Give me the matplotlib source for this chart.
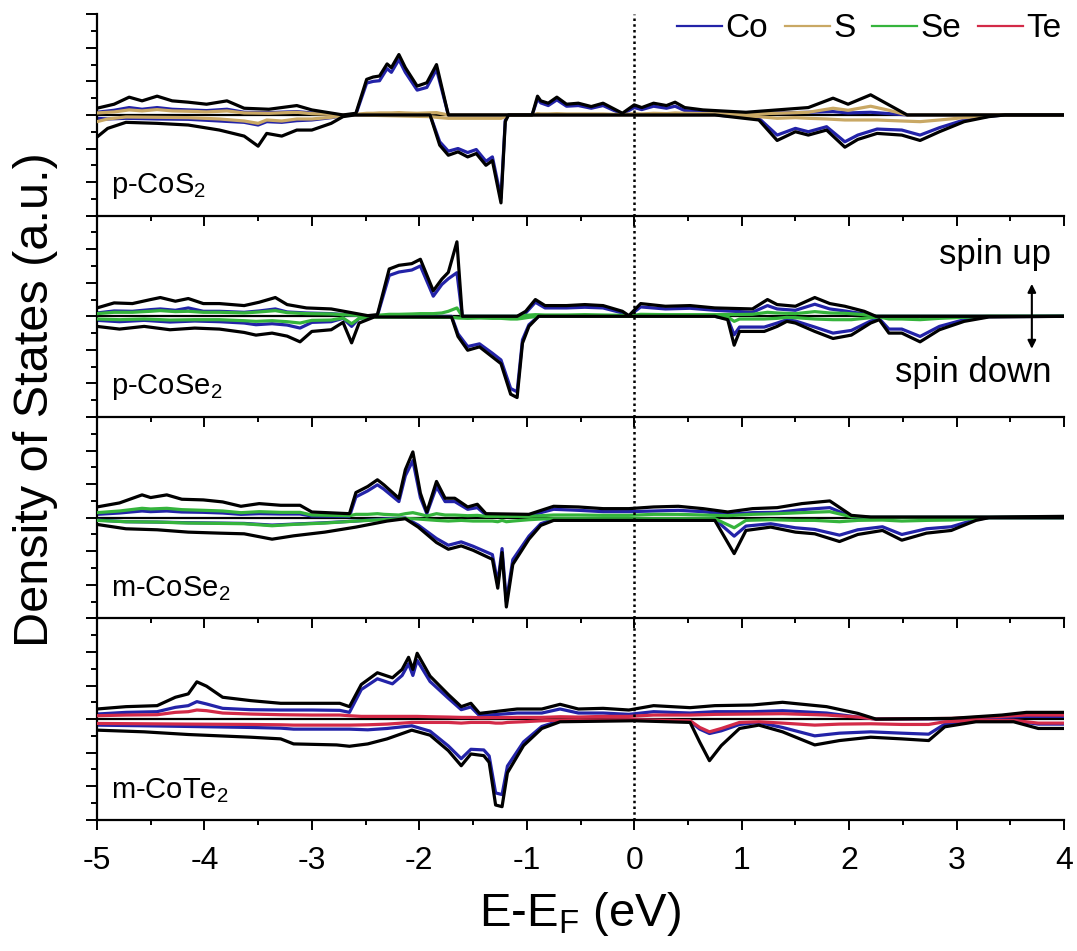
import numpy as np
import matplotlib
matplotlib.use("Agg")
import matplotlib.pyplot as plt
from matplotlib.lines import Line2D
from matplotlib.ticker import MultipleLocator

plt.rcParams['font.family'] = ['Liberation Sans', 'DejaVu Sans']
plt.rcParams['mathtext.default'] = 'regular'

# ---- data (energy in eV, DOS in a.u.) ----
# p-CoS2
e1u = [-5.0, -4.84, -4.70, -4.58, -4.44, -4.30, -4.15, -3.98, -3.79, -3.63, -3.40, -3.14, -3.00, -2.71, -2.59,
       -2.49, -2.43, -2.37, -2.30, -2.26, -2.19, -2.13, -2.02, -1.93, -1.84, -1.73, -0.95, -0.90, -0.87, -0.80,
       -0.72, -0.63, -0.52, -0.40, -0.29, -0.20, -0.11, 0.0, 0.07, 0.18, 0.30, 0.38, 0.47, 0.64, 1.04, 1.33, 1.62,
       1.85, 1.99, 2.20, 2.37, 2.54, 4.0]
tot1u = [0.20, 0.32, 0.53, 0.42, 0.56, 0.42, 0.38, 0.32, 0.42, 0.20, 0.17, 0.28, 0.15, 0.0, 0.05,
         1.06, 1.13, 1.16, 1.52, 1.41, 1.80, 1.41, 0.86, 0.96, 1.50, 0.0, 0.0, 0.56, 0.42, 0.35,
         0.53, 0.32, 0.35, 0.25, 0.35, 0.20, 0.05, 0.30, 0.22, 0.35, 0.28, 0.38, 0.22, 0.15, 0.08, 0.15, 0.22,
         0.50, 0.32, 0.60, 0.30, 0.0, 0.0]
co1u = [0.08, 0.14, 0.22, 0.17, 0.22, 0.17, 0.15, 0.13, 0.17, 0.08, 0.07, 0.10, 0.06, 0.0, 0.02,
        0.95, 1.00, 1.02, 1.38, 1.27, 1.65, 1.27, 0.74, 0.82, 1.36, 0.0, 0.0, 0.48, 0.36, 0.28,
        0.45, 0.26, 0.28, 0.20, 0.28, 0.15, 0.03, 0.22, 0.16, 0.26, 0.20, 0.26, 0.13, 0.08, 0.03, 0.06, 0.08,
        0.10, 0.06, 0.08, 0.04, 0.0, 0.0]
s1u = [0.06, 0.09, 0.15, 0.12, 0.16, 0.12, 0.11, 0.09, 0.12, 0.06, 0.05, 0.08, 0.04, 0.0, 0.02,
       0.05, 0.05, 0.06, 0.06, 0.06, 0.07, 0.06, 0.05, 0.06, 0.07, 0.0, 0.0, 0.04, 0.03, 0.03,
       0.04, 0.03, 0.03, 0.03, 0.03, 0.02, 0.01, 0.04, 0.03, 0.05, 0.04, 0.06, 0.05, 0.04, 0.03, 0.05, 0.08,
       0.20, 0.14, 0.26, 0.14, 0.0, 0.0]
e1d = [-5.0, -4.90, -4.73, -4.44, -4.15, -3.86, -3.63, -3.50, -3.42, -3.28, -3.14, -3.00, -2.82, -2.71, -2.60,
       -1.90, -1.81, -1.73, -1.64, -1.55, -1.47, -1.38, -1.32, -1.24, -1.20, -1.17,
       0.75, 1.16, 1.33, 1.50, 1.62, 1.79, 1.96, 2.08, 2.26, 2.49, 2.66, 2.84, 3.07, 3.30, 3.45, 4.0]
tot1d = [-0.66, -0.40, -0.22, -0.25, -0.30, -0.45, -0.63, -0.93, -0.55, -0.63, -0.45, -0.45, -0.25, -0.05, 0.0,
         0.0, -0.90, -1.20, -1.10, -1.25, -1.15, -1.50, -1.36, -2.62, -0.20, 0.0,
         0.0, -0.15, -0.76, -0.50, -0.60, -0.45, -0.96, -0.73, -0.55, -0.60, -0.76, -0.50, -0.20, -0.05, 0.0, 0.0]
co1d = [-0.10, -0.12, -0.10, -0.12, -0.13, -0.18, -0.22, -0.30, -0.20, -0.22, -0.17, -0.15, -0.08, -0.02, 0.0,
        0.0, -0.80, -1.08, -1.00, -1.12, -1.03, -1.38, -1.25, -2.47, -0.15, 0.0,
        0.0, -0.10, -0.60, -0.40, -0.50, -0.35, -0.80, -0.60, -0.42, -0.45, -0.60, -0.38, -0.15, -0.04, 0.0, 0.0]
s1d = [-0.20, -0.12, -0.06, -0.07, -0.08, -0.12, -0.18, -0.25, -0.15, -0.18, -0.12, -0.12, -0.07, -0.02, 0.0,
       -0.05, -0.08, -0.10, -0.10, -0.10, -0.10, -0.10, -0.10, -0.10, -0.05, 0.0,
       0.0, -0.05, -0.10, -0.08, -0.10, -0.12, -0.15, -0.15, -0.15, -0.18, -0.20, -0.15, -0.08, -0.02, 0.0, 0.0]

# p-CoSe2
e2u = [-5.0, -4.84, -4.67, -4.50, -4.41, -4.27, -4.15, -4.01, -3.86, -3.63, -3.49, -3.34, -3.23, -3.05, -2.82,
       -2.65, -2.48, -2.39, -2.28, -2.19, -2.07, -1.99, -1.87, -1.79, -1.73, -1.65, -1.60, -1.09, -1.01, -0.92,
       -0.83, -0.63, -0.46, -0.29, -0.11, -0.05, 0.06, 0.29, 0.52, 0.75, 1.10, 1.24, 1.33, 1.50, 1.68, 1.82,
       1.96, 2.14, 2.25, 4.0]
tot2u = [0.25, 0.40, 0.38, 0.50, 0.56, 0.45, 0.53, 0.38, 0.38, 0.32, 0.42, 0.56, 0.35, 0.25, 0.22,
         0.12, 0.02, 0.05, 1.41, 1.52, 1.57, 1.70, 0.76, 1.11, 1.31, 2.22, 0.0, 0.0, 0.15, 0.50,
         0.32, 0.32, 0.35, 0.32, 0.15, 0.02, 0.38, 0.30, 0.32, 0.25, 0.22, 0.50, 0.35, 0.30, 0.56, 0.38,
         0.30, 0.15, 0.0, 0.0]
co2u = [0.10, 0.16, 0.15, 0.20, 0.22, 0.18, 0.25, 0.15, 0.15, 0.12, 0.16, 0.22, 0.13, 0.10, 0.08,
        0.04, 0.01, 0.02, 1.22, 1.32, 1.38, 1.50, 0.60, 0.95, 1.12, 1.30, 0.0, 0.0, 0.10, 0.42,
        0.25, 0.25, 0.27, 0.25, 0.10, 0.01, 0.28, 0.22, 0.24, 0.18, 0.12, 0.32, 0.22, 0.18, 0.36, 0.22,
        0.16, 0.07, 0.0, 0.0]
se2u = [0.08, 0.12, 0.12, 0.15, 0.17, 0.14, 0.15, 0.12, 0.12, 0.10, 0.13, 0.17, 0.11, 0.08, 0.07,
        0.04, 0.01, 0.03, 0.06, 0.06, 0.07, 0.08, 0.08, 0.10, 0.15, 0.25, 0.0, 0.0, 0.03, 0.05,
        0.04, 0.04, 0.05, 0.04, 0.03, 0.01, 0.06, 0.05, 0.05, 0.05, 0.06, 0.12, 0.10, 0.08, 0.14, 0.10,
        0.09, 0.05, 0.0, 0.0]
e2d = [-5.0, -4.79, -4.56, -4.32, -4.09, -3.86, -3.63, -3.52, -3.37, -3.23, -3.11, -3.00, -2.82, -2.71, -2.63,
       -2.56, -2.42, -1.70, -1.64, -1.55, -1.44, -1.32, -1.24, -1.15, -1.09, -1.04, -0.98, -0.89, 0.75, 0.87,
       0.93, 0.98, 1.21, 1.33, 1.42, 1.50, 1.68, 1.85, 2.02, 2.20, 2.28, 2.37, 2.49, 2.66, 2.84, 3.07, 3.30, 4.0]
tot2d = [-0.30, -0.38, -0.30, -0.40, -0.35, -0.38, -0.48, -0.56, -0.50, -0.59, -0.76, -0.45, -0.40, -0.18, -0.79,
         -0.20, -0.02, -0.02, -0.60, -1.01, -0.91, -1.21, -1.41, -2.32, -2.42, -0.80, -0.30, 0.0, 0.0, -0.10,
         -0.86, -0.45, -0.45, -0.30, -0.15, -0.20, -0.45, -0.66, -0.56, -0.20, -0.10, -0.50, -0.50, -0.76, -0.40,
         -0.15, -0.02, 0.0]
co2d = [-0.12, -0.16, -0.12, -0.17, -0.14, -0.16, -0.20, -0.25, -0.22, -0.26, -0.35, -0.18, -0.16, -0.06, -0.30,
        -0.06, 0.0, 0.0, -0.52, -0.90, -0.82, -1.10, -1.30, -2.15, -2.25, -0.70, -0.25, 0.0, 0.0, -0.07,
        -0.55, -0.32, -0.32, -0.20, -0.10, -0.14, -0.32, -0.50, -0.42, -0.14, -0.07, -0.38, -0.38, -0.60, -0.30,
        -0.10, -0.01, 0.0]
se2d = [-0.08, -0.10, -0.08, -0.11, -0.10, -0.10, -0.13, -0.15, -0.13, -0.16, -0.20, -0.12, -0.11, -0.05, -0.22,
        -0.06, -0.02, -0.03, -0.05, -0.06, -0.05, -0.06, -0.06, -0.08, -0.08, -0.06, -0.03, 0.0, 0.0, -0.02,
        -0.15, -0.08, -0.08, -0.06, -0.03, -0.04, -0.08, -0.10, -0.10, -0.04, -0.02, -0.08, -0.08, -0.10, -0.06,
        -0.03, 0.0, 0.0]

# m-CoSe2
e3u = [-5.0, -4.79, -4.58, -4.50, -4.35, -4.21, -4.01, -3.83, -3.66, -3.49, -3.29, -3.11, -3.00, -2.65, -2.59,
       -2.48, -2.39, -2.33, -2.19, -2.13, -2.06, -1.99, -1.93, -1.84, -1.76, -1.67, -1.55, -1.46, -1.38, -0.98,
       -0.75, -0.52, -0.29, -0.05, 0.18, 0.41, 0.64, 0.87, 1.10, 1.33, 1.56, 1.82, 2.02, 2.20, 3.30, 4.0]
tot3u = [0.32, 0.44, 0.68, 0.60, 0.68, 0.55, 0.53, 0.47, 0.34, 0.42, 0.37, 0.37, 0.17, 0.12, 0.75,
         0.93, 1.13, 0.98, 0.58, 1.43, 1.96, 0.73, 0.17, 1.08, 0.58, 0.58, 0.32, 0.40, 0.12, 0.10,
         0.34, 0.32, 0.27, 0.27, 0.32, 0.34, 0.27, 0.17, 0.27, 0.30, 0.42, 0.50, 0.07, 0.02, 0.02, 0.04]
co3u = [0.10, 0.14, 0.20, 0.18, 0.20, 0.17, 0.16, 0.14, 0.10, 0.12, 0.11, 0.11, 0.05, 0.04, 0.62,
        0.80, 0.98, 0.85, 0.48, 1.25, 1.70, 0.60, 0.12, 0.92, 0.48, 0.48, 0.25, 0.30, 0.08, 0.06,
        0.25, 0.22, 0.18, 0.18, 0.20, 0.22, 0.18, 0.10, 0.15, 0.16, 0.24, 0.30, 0.03, 0.01, 0.01, 0.02]
se3u = [0.15, 0.20, 0.28, 0.26, 0.28, 0.24, 0.22, 0.20, 0.15, 0.18, 0.16, 0.16, 0.08, 0.06, 0.10,
        0.10, 0.12, 0.10, 0.08, 0.12, 0.15, 0.10, 0.05, 0.12, 0.08, 0.08, 0.06, 0.07, 0.04, 0.04,
        0.08, 0.08, 0.07, 0.07, 0.10, 0.10, 0.08, 0.06, 0.10, 0.12, 0.15, 0.18, 0.03, 0.01, 0.01, 0.02]
e3d = [-5.0, -4.73, -4.44, -4.15, -3.86, -3.63, -3.37, -3.17, -2.88, -2.59, -2.30, -2.13, -2.01, -1.84, -1.73,
       -1.61, -1.50, -1.32, -1.27, -1.23, -1.19, -1.13, -0.98, -0.87, -0.75, 0.75, 0.93, 1.04, 1.27, 1.50,
       1.68, 1.91, 2.08, 2.31, 2.49, 2.72, 2.95, 3.18, 3.30, 4.0]
tot3d = [-0.20, -0.33, -0.36, -0.43, -0.46, -0.48, -0.64, -0.54, -0.43, -0.28, -0.10, -0.03, -0.28, -0.74, -0.94,
         -0.84, -0.97, -1.24, -2.10, -1.04, -2.66, -1.39, -0.64, -0.23, -0.08, -0.08, -1.07, -0.38, -0.28, -0.43,
         -0.48, -0.71, -0.50, -0.38, -0.67, -0.46, -0.38, -0.08, 0.0, 0.0]
co3d = [-0.07, -0.12, -0.13, -0.15, -0.16, -0.17, -0.22, -0.19, -0.15, -0.10, -0.03, -0.01, -0.22, -0.62, -0.82,
        -0.72, -0.85, -1.10, -1.95, -0.92, -2.50, -1.25, -0.55, -0.18, -0.05, -0.05, -0.55, -0.25, -0.18, -0.30,
        -0.35, -0.52, -0.36, -0.27, -0.50, -0.33, -0.27, -0.05, 0.0, 0.0]
se3d = [-0.08, -0.12, -0.13, -0.16, -0.17, -0.18, -0.24, -0.20, -0.16, -0.10, -0.05, -0.02, -0.04, -0.08, -0.10,
        -0.08, -0.10, -0.10, -0.12, -0.08, -0.12, -0.10, -0.06, -0.04, -0.03, -0.03, -0.30, -0.08, -0.06, -0.08,
        -0.08, -0.12, -0.08, -0.07, -0.10, -0.08, -0.07, -0.02, 0.0, 0.0]

# m-CoTe2
e4u = [-5.0, -4.73, -4.44, -4.27, -4.15, -4.07, -3.98, -3.83, -3.57, -3.29, -3.00, -2.74, -2.65, -2.54, -2.39,
       -2.25, -2.16, -2.10, -2.06, -2.02, -1.90, -1.73, -1.61, -1.52, -1.44, -1.09, -0.86, -0.69, -0.52, -0.29,
       -0.05, 0.18, 0.52, 0.75, 1.10, 1.38, 1.79, 2.08, 2.25, 2.95, 3.42, 3.65, 4.0]
tot4u = [0.30, 0.37, 0.40, 0.65, 0.75, 1.11, 0.98, 0.65, 0.55, 0.47, 0.47, 0.47, 0.37, 1.03, 1.38,
         1.23, 1.48, 1.84, 1.48, 1.96, 1.28, 0.73, 0.37, 0.47, 0.17, 0.30, 0.30, 0.44, 0.30, 0.32,
         0.27, 0.40, 0.34, 0.40, 0.42, 0.50, 0.37, 0.17, 0.0, 0.02, 0.12, 0.20, 0.20]
co4u = [0.15, 0.20, 0.22, 0.35, 0.40, 0.52, 0.45, 0.32, 0.28, 0.27, 0.27, 0.26, 0.20, 0.88, 1.20,
        1.05, 1.30, 1.65, 1.30, 1.75, 1.12, 0.62, 0.28, 0.36, 0.10, 0.18, 0.18, 0.30, 0.18, 0.18,
        0.14, 0.22, 0.18, 0.22, 0.22, 0.25, 0.18, 0.06, 0.0, 0.01, 0.05, 0.08, 0.08]
te4u = [0.10, 0.12, 0.13, 0.20, 0.22, 0.27, 0.25, 0.18, 0.15, 0.13, 0.12, 0.12, 0.10, 0.08, 0.08,
        0.08, 0.08, 0.08, 0.08, 0.08, 0.07, 0.06, 0.05, 0.05, 0.04, 0.05, 0.05, 0.07, 0.06, 0.08,
        0.08, 0.12, 0.12, 0.14, 0.15, 0.16, 0.12, 0.06, 0.0, 0.02, 0.08, 0.12, 0.12]
e4d = [-5.0, -4.56, -4.15, -3.57, -3.29, -3.17, -2.77, -2.65, -2.48, -2.30, -2.07, -1.90, -1.73, -1.61, -1.52,
       -1.40, -1.35, -1.29, -1.23, -1.18, -1.03, -0.86, -0.69, 0.0, 0.52, 0.61, 0.70, 0.81, 0.98, 1.16,
       1.38, 1.68, 1.91, 2.20, 2.49, 2.74, 2.89, 3.18, 3.53, 3.76, 4.0]
tot4d = [-0.33, -0.38, -0.46, -0.54, -0.59, -0.74, -0.77, -0.81, -0.74, -0.59, -0.33, -0.48, -0.94, -1.39, -1.04,
         -1.09, -1.29, -2.56, -2.61, -1.60, -0.79, -0.28, -0.08, -0.05, -0.10, -0.69, -1.24, -0.79, -0.28, -0.18,
         -0.38, -0.77, -0.64, -0.54, -0.59, -0.64, -0.23, -0.08, -0.08, -0.28, -0.28]
co4d = [-0.18, -0.20, -0.22, -0.25, -0.27, -0.30, -0.30, -0.30, -0.32, -0.28, -0.20, -0.36, -0.80, -1.18, -0.90,
        -0.92, -1.10, -2.20, -2.25, -1.40, -0.68, -0.22, -0.05, -0.03, -0.06, -0.30, -0.43, -0.35, -0.16, -0.10,
        -0.25, -0.50, -0.42, -0.38, -0.42, -0.45, -0.15, -0.05, -0.05, -0.15, -0.15]
te4d = [-0.13, -0.14, -0.15, -0.16, -0.17, -0.18, -0.18, -0.18, -0.17, -0.15, -0.10, -0.10, -0.10, -0.12, -0.10,
        -0.10, -0.10, -0.12, -0.12, -0.10, -0.08, -0.05, -0.03, -0.02, -0.05, -0.25, -0.38, -0.28, -0.10, -0.08,
        -0.12, -0.18, -0.15, -0.14, -0.16, -0.16, -0.08, -0.04, -0.04, -0.12, -0.12]

labels = ['p-CoS$_2$', 'p-CoSe$_2$', 'm-CoSe$_2$', 'm-CoTe$_2$']
elements = ['Co', 'S', 'Se', 'Te']
colors = {'Co': '#2323a8', 'S': '#c9a864', 'Se': '#35b43c', 'Te': '#d32a48'}

panels = [
    (e1u, tot1u, co1u, s1u, e1d, tot1d, co1d, s1d, 'S'),
    (e2u, tot2u, co2u, se2u, e2d, tot2d, co2d, se2d, 'Se'),
    (e3u, tot3u, co3u, se3u, e3d, tot3d, co3d, se3d, 'Se'),
    (e4u, tot4u, co4u, te4u, e4d, tot4d, co4d, te4d, 'Te'),
]

fig, axes = plt.subplots(4, 1, figsize=(10.77, 9.51), dpi=100, sharex=True)
fig.subplots_adjust(left=0.090, right=0.988, top=0.985, bottom=0.138, hspace=0)

lw = 2.3
for i, (ax, p) in enumerate(zip(axes, panels)):
    eu, tu, cu, xu, ed, td, cd, xd, el = p
    ax.patch.set_visible(False)
    ax.plot(eu, cu, color=colors['Co'], lw=lw, zorder=2)
    ax.plot(ed, cd, color=colors['Co'], lw=lw, zorder=2)
    ax.plot(eu, xu, color=colors[el], lw=lw, zorder=3)
    ax.plot(ed, xd, color=colors[el], lw=lw, zorder=3)
    ax.plot(eu, tu, color='black', lw=lw, zorder=4)
    ax.plot(ed, td, color='black', lw=lw, zorder=4)
    ax.axhline(0, color='black', lw=1.6, zorder=1)
    ax.axvline(0, color='black', lw=1.8, ls=(0, (1, 1.3)), zorder=5)

    ax.set_xlim(-5, 4)
    ax.set_ylim(-3, 3)
    ax.spines['top'].set_visible(False)
    ax.spines['right'].set_visible(False)
    ax.spines['left'].set_linewidth(1.6)
    ax.spines['bottom'].set_linewidth(1.6)
    ax.xaxis.set_major_locator(MultipleLocator(1))
    ax.xaxis.set_minor_locator(MultipleLocator(0.5))
    ax.yaxis.set_major_locator(MultipleLocator(1))
    ax.yaxis.set_minor_locator(MultipleLocator(0.5))
    ax.tick_params(axis='x', which='major', direction='out', length=7, width=1.4, labelsize=23, pad=12)
    ax.tick_params(axis='x', which='minor', direction='out', length=3.5, width=1.4)
    ax.tick_params(axis='y', which='major', direction='out', length=8, width=1.4, labelleft=False)
    ax.tick_params(axis='y', which='minor', direction='out', length=4, width=1.4)
    ax.text(-4.87, -2.12, labels[i], fontsize=21, va='center', ha='left')

axes[-1].set_xticks(range(-5, 5))
axes[-1].set_xticklabels([str(v) for v in range(-5, 5)])
axes[-1].set_xlabel('E-E$_F$ (eV)', fontsize=34, labelpad=10)
fig.text(0.033, 0.58, 'Density of States (a.u.)', rotation=90, fontsize=35,
         ha='center', va='center')

# legend
handles = [Line2D([], [], color=colors[e], lw=1.6) for e in elements]
axes[0].legend(handles, elements, loc='upper right', ncol=4, frameon=False, fontsize=24,
               handlelength=1.35, handletextpad=0.1, columnspacing=0.5,
               borderpad=0, borderaxespad=0, bbox_to_anchor=(0.997, 1.005))

# spin up / down annotation
ax2 = axes[1]
ax2.annotate('', xy=(3.70, 1.05), xytext=(3.70, -1.05),
             arrowprops=dict(arrowstyle='<|-|>', color='black', lw=1.5, mutation_scale=12))
ax2.text(3.88, 1.85, 'spin up', fontsize=25, ha='right', va='center')
ax2.text(3.88, -1.68, 'spin down', fontsize=25, ha='right', va='center')

fig.savefig('out.png', dpi=100)
